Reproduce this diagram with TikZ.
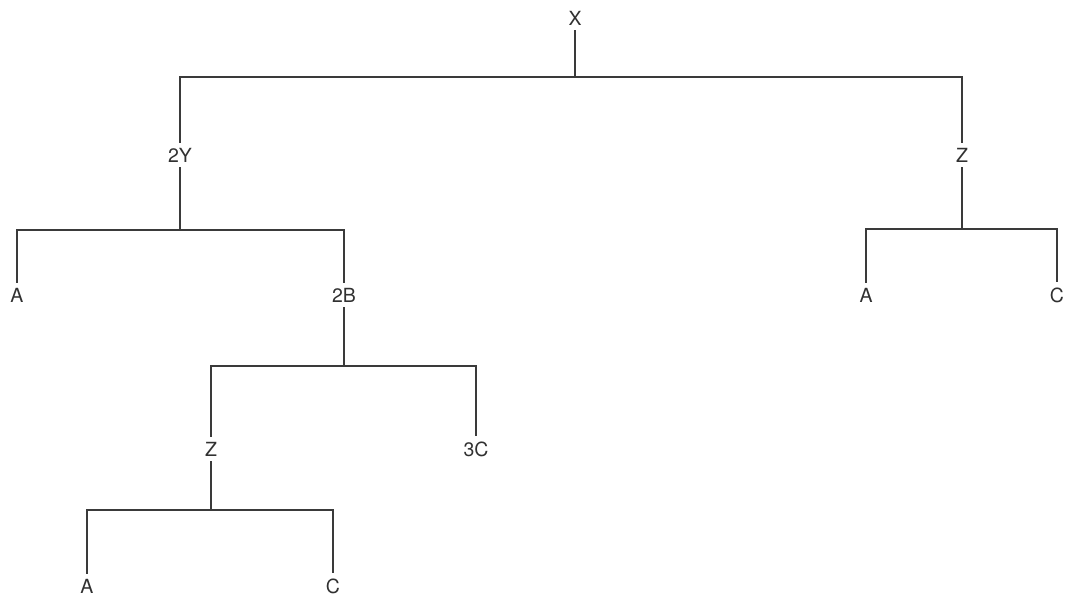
\documentclass[tikz,border=0pt]{standalone}
\usepackage{fontspec}
\setmainfont{TeX Gyre Heros}
\definecolor{ink}{HTML}{3A3A3A}
\begin{document}
\begin{tikzpicture}[x=1pt,y=-1pt,
  lbl/.style={font=\fontsize{19.5}{22}\selectfont, text=ink!85!black, inner xsep=2pt, inner ysep=5pt},
  edge/.style={draw=ink, line width=1.9pt}]
\useasboundingbox (0,0) rectangle (1080,614);
\node[lbl] (X)  at (575,18) {X};
\node[lbl] (Y2) at (180,155) {2Y};
\node[lbl] (Z1) at (962,155) {Z};
\node[lbl] (A1) at (17,295) {A};
\node[lbl] (B2) at (344,295) {2B};
\node[lbl] (A2) at (866,295) {A};
\node[lbl] (C2) at (1057,295) {C};
\node[lbl] (Z2) at (211,449) {Z};
\node[lbl] (C3) at (476,449) {3C};
\node[lbl] (A3) at (87,586) {A};
\node[lbl] (C4) at (333,586) {C};
\coordinate (j1) at (575,77);
\coordinate (j2) at (180,230);
\coordinate (j3) at (962,229);
\coordinate (j4) at (344,366);
\coordinate (j5) at (211,510);
% X
\draw[edge] (X) -- (j1);
\draw[edge] (Y2) |- (j1) -| (Z1);
% 2Y
\draw[edge] (Y2) -- (j2);
\draw[edge] (A1) |- (j2) -| (B2);
% Z right
\draw[edge] (Z1) -- (j3);
\draw[edge] (A2) |- (j3) -| (C2);
% 2B
\draw[edge] (B2) -- (j4);
\draw[edge] (Z2) |- (j4) -| (C3);
% Z lower
\draw[edge] (Z2) -- (j5);
\draw[edge] (A3) |- (j5) -| (C4);
\end{tikzpicture}
\end{document}
